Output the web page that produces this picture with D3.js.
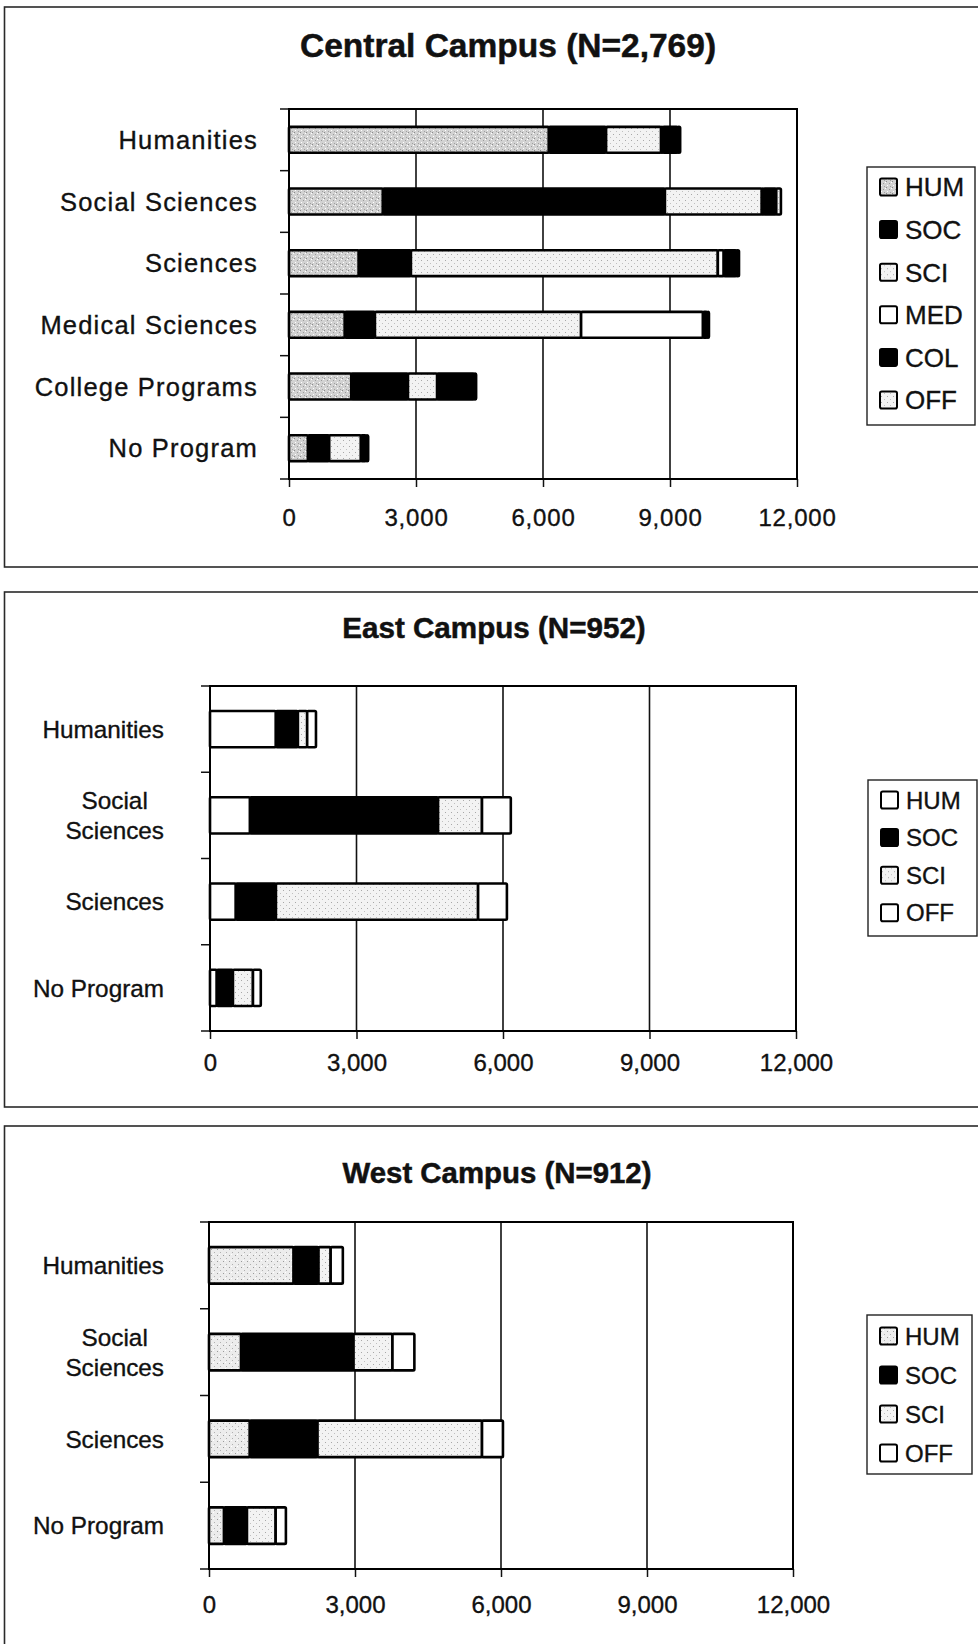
<!DOCTYPE html>
<html>
<head>
<meta charset="utf-8">
<script src="https://cdn.jsdelivr.net/npm/d3@7"></script>
<style>
  body { margin: 0; background: #fff; }
  svg { display: block; }
  text { font-family: Arial, "Liberation Sans", Helvetica, sans-serif; fill: #111; stroke: #111; stroke-width: 0.35px; }
</style>
</head>
<body>
<svg id="chart" width="978" height="1644"></svg>
<script>
// ---------- data ----------
const xTickValues = [0, 3000, 6000, 9000, 12000];

// Central Campus (N=2,769)
const centralTitle = "Central Campus (N=2,769)";
const centralCategories = ["Humanities", "Social Sciences", "Sciences", "Medical Sciences", "College Programs", "No Program"];
const centralSeries = ["HUM", "SOC", "SCI", "MED", "COL", "OFF"];
const centralHUM = [6140, 2220, 1650, 1320, 1470, 450];
const centralSOC = [1350, 6660, 1230,  710, 1340, 500];
const centralSCI = [1300, 2290, 7250, 4870,  690, 750];
const centralMED = [  40,   40,  140, 2880,    0,   0];
const centralCOL = [ 350,  300,  300,  100,  880, 120];
const centralOFF = [  60,  110,   60,   40,   40,  50];

// East Campus (N=952)
const eastTitle = "East Campus (N=952)";
const eastCategories = ["Humanities", "Social Sciences", "Sciences", "No Program"];
const eastSeries = ["HUM", "SOC", "SCI", "OFF"];
const eastHUM = [1350,  820,  530, 140];
const eastSOC = [ 450, 3850,  820, 330];
const eastSCI = [ 190,  900, 4140, 410];
const eastOFF = [ 180,  590,  590, 160];

// West Campus (N=912)
const westTitle = "West Campus (N=912)";
const westCategories = ["Humanities", "Social Sciences", "Sciences", "No Program"];
const westSeries = ["HUM", "SOC", "SCI", "OFF"];
const westHUM = [1740,  660,  840, 310];
const westSOC = [ 510, 2310, 1390, 470];
const westSCI = [ 250,  800, 3380, 590];
const westOFF = [ 250,  450,  430, 210];

// ---------- build tables ----------
function buildRows(categories, seriesKeys, columns) {
  return categories.map((c, i) => {
    const row = { category: c };
    seriesKeys.forEach((k, j) => { row[k] = columns[j][i]; });
    return row;
  });
}

const panels = [
  {
    title: centralTitle, categories: centralCategories, series: centralSeries,
    rows: buildRows(centralCategories, centralSeries, [centralHUM, centralSOC, centralSCI, centralMED, centralCOL, centralOFF]),
    frame: { top: 7, bottom: 567 },
    titleX: 508, titleY: 57, titleSize: 33.5,
    plot: { x0: 289, x1: 797, y0: 109, y1: 479 },
    labelRight: 258, labelSize: 25.5, labelSpacing: 1.2, wrapWidth: 400,
    tickLabelOffset: 38, tickLabelSpacing: 0.8,
    legend: { x: 867, y: 167, w: 108, h: 258, first: 20, step: 42.6, text: 26 },
    fills: { HUM: "url(#dotDark)", SOC: "#000", SCI: "url(#dotLight)", MED: "#fff", COL: "#000", OFF: "url(#dotLight)" }
  },
  {
    title: eastTitle, categories: eastCategories, series: eastSeries,
    rows: buildRows(eastCategories, eastSeries, [eastHUM, eastSOC, eastSCI, eastOFF]),
    frame: { top: 592, bottom: 1107 },
    titleX: 494, titleY: 638, titleSize: 29.6,
    plot: { x0: 210, x1: 796, y0: 686, y1: 1031 },
    labelRight: 164, labelSize: 24.3, labelSpacing: 0, wrapWidth: 150,
    tickLabelOffset: 31, tickLabelSpacing: 0,
    legend: { x: 868, y: 780, w: 109, h: 156, first: 20, step: 37.6, text: 24 },
    fills: { HUM: "#fff", SOC: "#000", SCI: "url(#dotLight)", OFF: "#fff" }
  },
  {
    title: westTitle, categories: westCategories, series: westSeries,
    rows: buildRows(westCategories, westSeries, [westHUM, westSOC, westSCI, westOFF]),
    frame: { top: 1126, bottom: 1700 },
    titleX: 497, titleY: 1183, titleSize: 29.4,
    plot: { x0: 209, x1: 793, y0: 1222, y1: 1569 },
    labelRight: 164, labelSize: 24.3, labelSpacing: 0, wrapWidth: 150,
    tickLabelOffset: 35, tickLabelSpacing: 0,
    legend: { x: 867, y: 1315, w: 105, h: 159, first: 21, step: 39, text: 24 },
    fills: { HUM: "url(#dotMid)", SOC: "#000", SCI: "url(#dotLight)", OFF: "#fff" }
  }
];

// ---------- drawing ----------
const svg = d3.select("#chart");

// stipple textures used for the lighter segments
const defs = svg.append("defs");
function stipple(id, base, dots) {
  const p = defs.append("pattern").attr("id", id)
    .attr("patternUnits", "userSpaceOnUse").attr("width", 6).attr("height", 6);
  p.append("rect").attr("width", 6).attr("height", 6).attr("fill", base);
  dots.forEach(([cx, cy, col]) => p.append("rect").attr("x", cx).attr("y", cy).attr("width", 1).attr("height", 1).attr("fill", col));
}
stipple("dotDark", "#d2d2d2", [[0, 0, "#8a8a8a"], [3, 2, "#9a9a9a"], [1, 4, "#ffffff"], [4, 5, "#a0a0a0"], [5, 1, "#ffffff"]]);
stipple("dotMid", "#ececec", [[1, 1, "#9a9a9a"], [4, 4, "#b0b0b0"], [3, 0, "#ffffff"]]);
stipple("dotLight", "#f3f3f3", [[1, 2, "#a8a8a8"], [4, 5, "#c0c0c0"]]);

panels.forEach(drawPanel);

function drawPanel(P) {
  const g = svg.append("g");

  // outer frame of the panel
  g.append("rect")
    .attr("x", 4.5).attr("y", P.frame.top)
    .attr("width", 1100).attr("height", P.frame.bottom - P.frame.top)
    .attr("fill", "none").attr("stroke", "#2a2a2a").attr("stroke-width", 1.6);

  // title
  g.append("text")
    .attr("x", P.titleX).attr("y", P.titleY)
    .attr("text-anchor", "middle")
    .attr("font-size", P.titleSize).attr("font-weight", "bold")
    .style("stroke-width", "0.5px")
    .text(P.title);

  const x = d3.scaleLinear().domain([0, 12000]).range([P.plot.x0, P.plot.x1]);
  const y = d3.scaleBand().domain(P.categories).range([P.plot.y0, P.plot.y1]).padding(0);
  const barH = y.bandwidth() * 0.42;

  // vertical gridlines
  g.append("g").selectAll("line")
    .data(xTickValues.slice(1, -1))
    .join("line")
    .attr("x1", d => x(d)).attr("x2", d => x(d))
    .attr("y1", P.plot.y0).attr("y2", P.plot.y1)
    .attr("stroke", "#111").attr("stroke-width", 1.6);

  // x axis with ticks below the plot
  const xAxis = g.append("g")
    .attr("transform", `translate(0,${P.plot.y1})`)
    .call(d3.axisBottom(x).tickValues(xTickValues).tickFormat(d3.format(",")).tickSize(8).tickSizeOuter(0));
  xAxis.select(".domain").remove();
  xAxis.selectAll(".tick line").attr("stroke", "#111").attr("stroke-width", 1.5);
  xAxis.selectAll(".tick text")
    .attr("y", P.tickLabelOffset).attr("dy", "0.36em")
    .attr("font-size", 24).attr("letter-spacing", P.tickLabelSpacing)
    .attr("fill", "#111").attr("font-family", null);

  // y tick marks at category boundaries
  const bounds = d3.range(P.categories.length + 1).map(i => P.plot.y0 + i * y.step());
  g.append("g").selectAll("line")
    .data(bounds)
    .join("line")
    .attr("x1", P.plot.x0 - 9).attr("x2", P.plot.x0)
    .attr("y1", d => d).attr("y2", d => d)
    .attr("stroke", "#111").attr("stroke-width", 1.5);

  // category labels (wrapped when too wide)
  const labels = g.append("g").selectAll("text")
    .data(P.categories)
    .join("text")
    .attr("font-size", P.labelSize)
    .attr("letter-spacing", P.labelSpacing)
    .attr("text-anchor", "middle");
  labels.each(function (d) {
    const t = d3.select(this);
    t.text(d);
    const full = this.getComputedTextLength();
    let lines = [d];
    if (full > P.wrapWidth) lines = d.split(" ");
    t.text(null);
    const widths = lines.map(l => { t.text(l); const w = this.getComputedTextLength(); t.text(null); return w; });
    const blockW = d3.max(widths);
    const cx = P.labelRight - blockW / 2;
    const lh = P.labelSize * 1.25;
    const cy = y(d) + y.bandwidth() / 2;
    lines.forEach((l, i) => {
      t.append("tspan")
        .attr("x", cx)
        .attr("y", cy + (i - (lines.length - 1) / 2) * lh)
        .attr("dy", "0.36em")
        .text(l);
    });
  });

  // stacked bars
  const stacked = d3.stack().keys(P.series)(P.rows);
  g.append("g").selectAll("g")
    .data(stacked)
    .join("g")
    .attr("fill", s => P.fills[s.key])
    .selectAll("rect")
    .data(s => s.filter(d => d[1] - d[0] > 0))
    .join("rect")
    .attr("x", d => x(d[0]))
    .attr("y", d => y(d.data.category) + (y.bandwidth() - barH) / 2)
    .attr("width", d => x(d[1]) - x(d[0]))
    .attr("height", barH)
    .attr("stroke", "#000").attr("stroke-width", 2.6)
    .attr("rx", 1.2);

  // plot frame
  g.append("rect")
    .attr("x", P.plot.x0).attr("y", P.plot.y0)
    .attr("width", P.plot.x1 - P.plot.x0).attr("height", P.plot.y1 - P.plot.y0)
    .attr("fill", "none").attr("stroke", "#000").attr("stroke-width", 2);

  // legend
  const L = P.legend;
  const lg = g.append("g");
  lg.append("rect")
    .attr("x", L.x).attr("y", L.y).attr("width", L.w).attr("height", L.h)
    .attr("fill", "#fff").attr("stroke", "#222").attr("stroke-width", 1.4);
  const items = lg.selectAll("g.item")
    .data(P.series)
    .join("g").attr("class", "item")
    .attr("transform", (d, i) => `translate(${L.x + 13},${L.y + L.first + i * L.step})`);
  items.append("rect")
    .attr("x", 0).attr("y", -8.5).attr("width", 17).attr("height", 17)
    .attr("rx", 1.8)
    .attr("fill", d => P.fills[d]).attr("stroke", "#000").attr("stroke-width", 2);
  items.append("text")
    .attr("x", 25).attr("dy", "0.36em")
    .attr("font-size", L.text)
    .text(d => d);
}
</script>
</body>
</html>
